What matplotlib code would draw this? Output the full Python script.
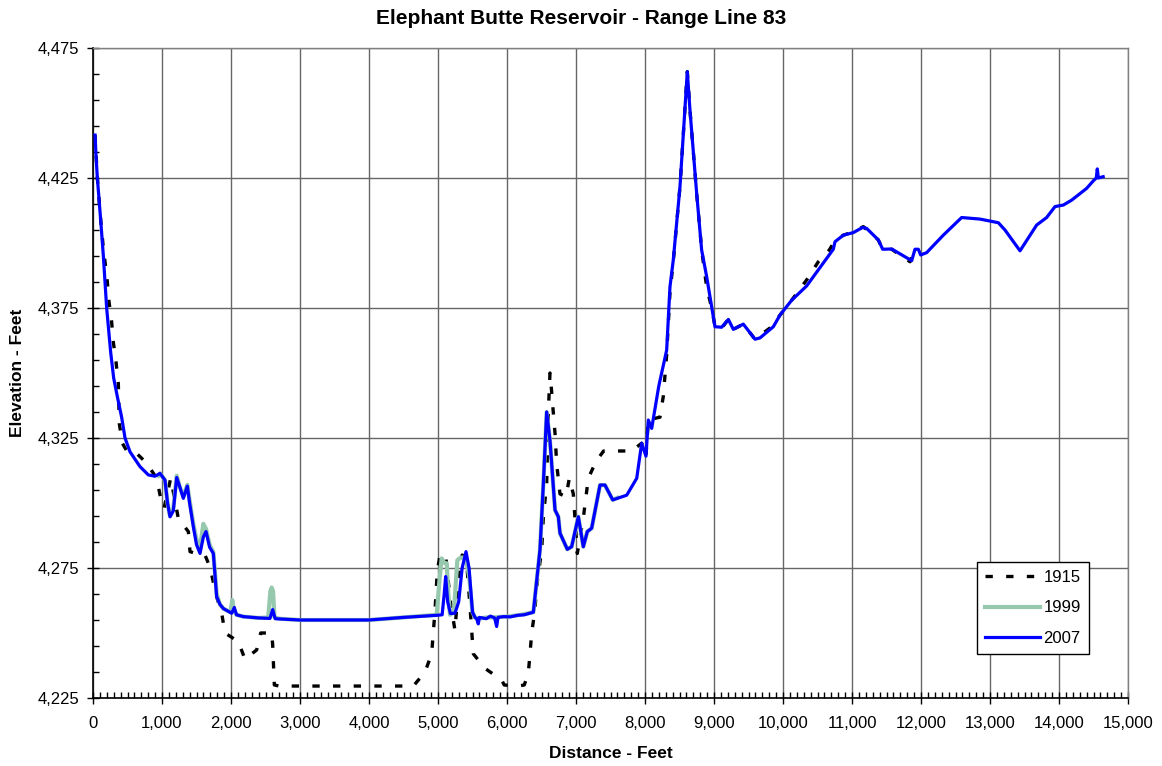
import matplotlib
matplotlib.use("Agg")
import matplotlib.pyplot as plt
from matplotlib.ticker import MultipleLocator, FuncFormatter

plt.rcParams['font.family'] = ['Liberation Sans', 'DejaVu Sans']

# Range Line 83 survey data (distance ft, elevation ft)
dist_1915 = [30, 63, 111, 150, 174, 208, 232, 270, 294, 333, 367, 381, 425, 490, 609, 778, 923, 981,
             1030, 1126, 1180, 1237, 1382, 1406, 1500, 1623, 1700, 1780, 1865, 1913, 2106, 2203, 2372,
             2430, 2590, 2604, 2628, 2700, 3500, 4643, 4812, 4908, 4957, 4990, 5030, 5110, 5180, 5246,
             5300, 5350, 5410, 5464, 5512, 5681, 5923, 5960, 6164, 6250, 6309, 6333, 6358, 6400, 6440,
             6503, 6527, 6575, 6599, 6623, 6647, 6672, 6696, 6720, 6768, 6855, 6903, 6961, 7019, 7106,
             7178, 7290, 7400, 7807, 7952, 8014, 8048, 8217, 8265, 8314, 8362, 8410, 8507, 8613, 8652,
             8749, 8821, 8894, 8966, 9014, 9087, 9208, 9280, 9425, 9594, 9836, 9957, 10126, 10343,
             10512, 10671, 10754, 10874, 11019, 11164, 11381, 11445, 11575, 11841, 11913]
elev_1915 = [4441.5, 4425, 4409, 4398, 4392.8, 4385, 4377.4, 4369.7, 4362, 4354.4, 4346, 4330.6, 4323,
             4320, 4319.7, 4315.3, 4309.5, 4301.8, 4298, 4309.5, 4302, 4294, 4289, 4281.3, 4280.5, 4280,
             4275, 4265, 4257.6, 4250, 4246.7, 4239.9, 4243.5, 4250, 4250, 4245.4, 4230, 4229.6, 4229.6,
             4229.6, 4235, 4242, 4258.8, 4274, 4280, 4280, 4262, 4251, 4270, 4280, 4279, 4260, 4242,
             4236.4, 4231.9, 4230, 4229.6, 4230, 4234.5, 4242, 4250, 4258, 4270, 4282, 4294.7, 4307.5,
             4335, 4350, 4342.8, 4334.5, 4326.8, 4315, 4303.5, 4302.4, 4309.5, 4303.5, 4280.6, 4294.2,
             4309.5, 4316, 4320, 4320, 4323, 4318, 4332, 4333, 4341, 4357, 4381, 4393, 4421.7, 4465.9,
             4451, 4419, 4397.3, 4383, 4375, 4368, 4366.5, 4370.6, 4366.8, 4368.8, 4363, 4367.8, 4372.3,
             4378, 4385.8, 4392.8, 4397.3, 4401, 4403, 4404.3, 4406.3, 4401.2, 4397.6, 4397.6, 4392.8,
             4397.6]

dist_1999 = [950, 971, 1043, 1080, 1116, 1164, 1213, 1260, 1309, 1367, 1400, 1454, 1500, 1551, 1599,
             1638, 1690, 1744, 1775, 1792, 1840, 1889, 1990, 2019, 2045, 2080, 2179, 2400, 2540, 2570,
             2589, 2610, 2630, 2700, 3000, 3500, 4000, 4500, 4981, 5020, 5053, 5090, 5126, 5150, 5174,
             5230, 5260, 5280, 5330, 5400, 5450, 5500, 5536, 5600, 5700, 5800, 5900, 6000, 6200, 6382,
             6430, 6478, 6527, 6575, 6623, 6696, 6744, 6768, 6874, 6937, 7034, 7106, 7164, 7227, 7348,
             7420, 7532, 7600]
elev_1999 = [4310.5, 4311.4, 4308.8, 4300, 4295, 4298, 4310.5, 4306, 4302.5, 4307, 4301, 4292, 4286,
             4283, 4292, 4290, 4284, 4281, 4271, 4265, 4261, 4259.4, 4258, 4262.7, 4258.5, 4257, 4256.3,
             4255.8, 4256, 4266, 4267.5, 4266, 4256, 4255.5, 4255, 4255, 4255, 4256, 4257, 4270, 4278.7,
             4277, 4276.8, 4265, 4257, 4258, 4270, 4278, 4279, 4279, 4272, 4258, 4256, 4255.5, 4256,
             4256, 4256.2, 4256.3, 4257, 4258, 4270, 4282, 4307.5, 4335, 4324, 4297.3, 4294.7, 4288.4,
             4282.2, 4283.2, 4294.7, 4283.2, 4289, 4290.3, 4306.9, 4306.9, 4301.2, 4302]

dist_2007 = [30, 45, 63, 111, 150, 198, 256, 300, 352, 415, 464, 536, 681, 802, 900, 971, 1043, 1080,
             1116, 1164, 1213, 1260, 1309, 1367, 1400, 1454, 1500, 1551, 1600, 1638, 1690, 1744, 1775,
             1792, 1840, 1889, 2010, 2048, 2080, 2179, 2400, 2565, 2604, 2640, 3000, 3500, 4000, 4500,
             4981, 5060, 5090, 5111, 5140, 5180, 5246, 5300, 5350, 5406, 5450, 5500, 5536, 5560, 5584,
             5600, 5700, 5760, 5820, 5850, 5870, 5950, 6050, 6150, 6250, 6382, 6430, 6478, 6527, 6575,
             6623, 6696, 6744, 6768, 6874, 6937, 7034, 7106, 7164, 7227, 7348, 7420, 7532, 7735, 7880,
             7918, 7952, 8014, 8048, 8097, 8200, 8314, 8362, 8410, 8507, 8613, 8652, 8749, 8821, 8894,
             9014, 9111, 9208, 9280, 9425, 9594, 9667, 9860, 9957, 10126, 10343, 10729, 10754, 10874,
             11019, 11155, 11213, 11381, 11445, 11575, 11865, 11913, 11961, 11995, 12082, 12323, 12589,
             12855, 13121, 13217, 13435, 13676, 13821, 13942, 14063, 14184, 14400, 14500, 14540, 14555,
             14570, 14640]
elev_2007 = [4441.5, 4433, 4425, 4409, 4395, 4375, 4358, 4348, 4341, 4333, 4325, 4319.7, 4314, 4310.8,
             4310.3, 4311.4, 4308.8, 4300, 4294.7, 4297, 4309.8, 4306, 4301.8, 4306.5, 4300, 4290.9, 4284,
             4280.6, 4287, 4289, 4283, 4280.6, 4270, 4264, 4261, 4259.4, 4257.6, 4259.8, 4257, 4256.3,
             4255.8, 4255.6, 4259, 4255.5, 4255, 4255, 4255, 4256, 4256.8, 4257, 4265, 4271.7, 4262,
             4257.5, 4257.6, 4262, 4275, 4281.3, 4275, 4258, 4256, 4255.5, 4253.5, 4256, 4255.5, 4256.5,
             4255.8, 4252.5, 4256, 4256.3, 4256.2, 4256.8, 4257, 4258, 4270, 4282, 4307.5, 4335, 4324,
             4297.3, 4294.7, 4288.4, 4282.2, 4283.2, 4294.7, 4283.2, 4289, 4290.3, 4306.9, 4306.9, 4301.2,
             4303, 4309.5, 4316.5, 4323, 4318, 4331.9, 4328.7, 4345, 4358.8, 4383.2, 4393.5, 4421.7,
             4465.9, 4451, 4419, 4397.3, 4387, 4367.8, 4367.6, 4370.6, 4366.8, 4368.8, 4363, 4363.5,
             4367.8, 4372.3, 4378, 4383.5, 4397.6, 4400.5, 4403, 4404, 4406, 4405.6, 4401.2, 4397.6,
             4397.7, 4393.2, 4397.6, 4397.6, 4395.4, 4396.3, 4403, 4409.8, 4409.2, 4407.8, 4405, 4397,
             4406.9, 4409.8, 4414, 4414.6, 4416.5, 4421, 4424, 4425, 4428.5, 4425, 4425.5]

W, H = 1162, 766
fig = plt.figure(figsize=(W / 100, H / 100), dpi=100)
ax = fig.add_axes([93 / W, 1 - 698 / H, (1128 - 93) / W, (698 - 48) / H])

ax.plot(dist_1915, elev_1915, color='black', lw=2.4, linestyle=(0, (2.2, 4.0)),
        dash_capstyle='butt', label='1915', zorder=3)
ax.plot(dist_1999, elev_1999, color='#96C8AE', lw=3.0, label='1999', zorder=4)
ax.plot(dist_2007, elev_2007, color='#0000FF', lw=2.3, label='2007', zorder=5)

ax.set_xlim(0, 15000)
ax.set_ylim(4225, 4475)
ax.xaxis.set_major_locator(MultipleLocator(1000))
ax.xaxis.set_minor_locator(MultipleLocator(100))
ax.yaxis.set_major_locator(MultipleLocator(50, offset=25))
ax.yaxis.set_minor_locator(MultipleLocator(10, offset=5))
fmt = FuncFormatter(lambda v, p: f"{int(round(v)):,}")
ax.xaxis.set_major_formatter(fmt)
ax.yaxis.set_major_formatter(fmt)

ax.grid(True, which='major', color='#666666', lw=1.0, zorder=1)
ax.set_axisbelow(True)
ax.tick_params(which='major', direction='inout', length=8, width=1, labelsize=12, pad=6)
ax.tick_params(axis='x', which='major', pad=9)
ax.tick_params(which='minor', direction='in', length=4, width=1)
for side in ['left', 'bottom']:
    ax.spines[side].set_color('black')
    ax.spines[side].set_linewidth(1.2)
for side in ['top', 'right']:
    ax.spines[side].set_color('#808080')
    ax.spines[side].set_linewidth(1.0)

fig.text(0.5, 1 - 19 / H, 'Elephant Butte Reservoir - Range Line 83', ha='center', va='center',
         fontsize=15, fontweight='bold')
fig.text((93 + 1128) / 2 / W, 1 - 753 / H, 'Distance - Feet', ha='center', va='center',
         fontsize=12.5, fontweight='bold')
fig.text(18 / W, 1 - 373 / H, 'Elevation - Feet', ha='center', va='center', rotation=90,
         fontsize=12.5, fontweight='bold')

leg = ax.legend(loc='center', bbox_to_anchor=(1033 / W, 1 - 608 / H), bbox_transform=fig.transFigure,
                fontsize=12, handlelength=3.3, handletextpad=0.2, borderpad=0.5, labelspacing=0.93,
                fancybox=False, framealpha=1, edgecolor='black')
leg.get_frame().set_linewidth(1.0)

fig.savefig('out.png', dpi=100)
